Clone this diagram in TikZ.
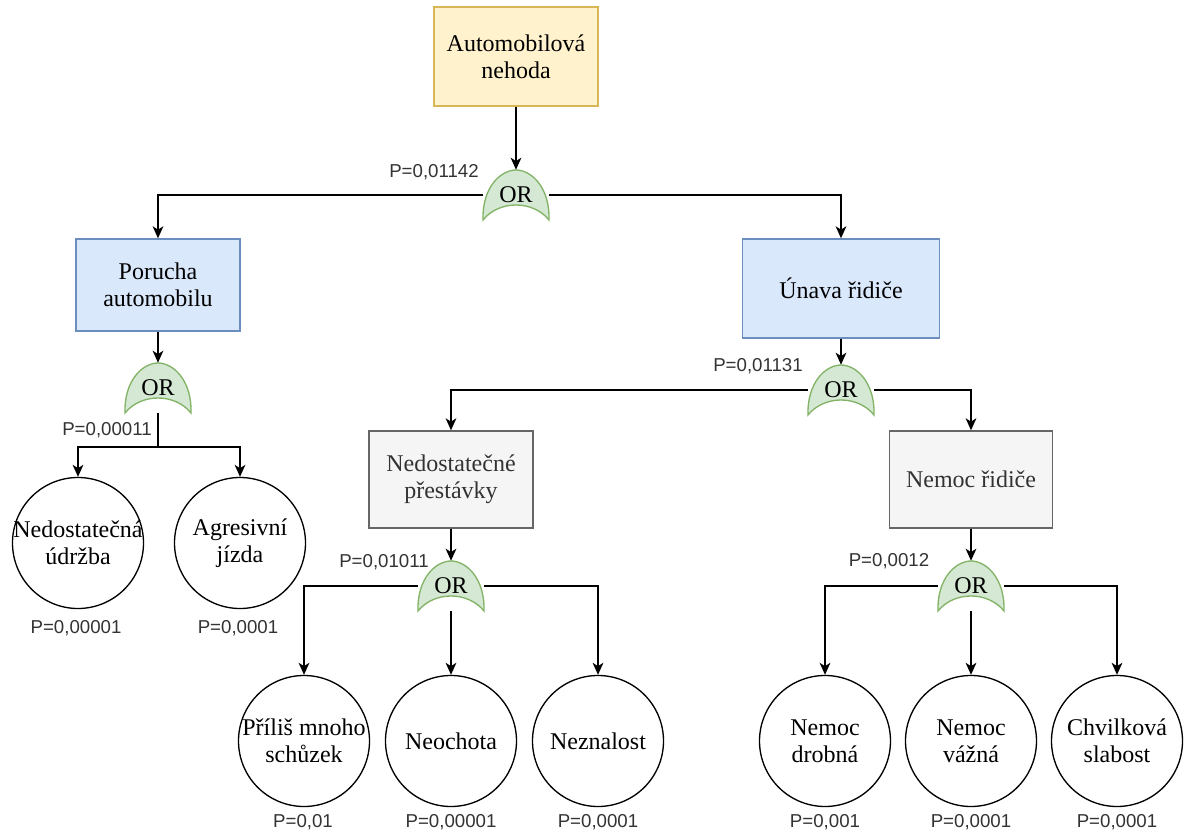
\documentclass[tikz,border=0pt]{standalone}
\usepackage{fontspec}
\setmainfont{Liberation Serif}
\newfontfamily\labelfont{Liberation Sans}
\usetikzlibrary{arrows.meta}

\definecolor{topfill}{HTML}{FFF2CC}
\definecolor{topline}{HTML}{D6B656}
\definecolor{bluefill}{HTML}{DAE8FC}
\definecolor{blueline}{HTML}{6C8EBF}
\definecolor{grayfill}{HTML}{F5F5F5}
\definecolor{grayline}{HTML}{666666}
\definecolor{graytext}{HTML}{333333}
\definecolor{gatefill}{HTML}{D5E8D4}
\definecolor{gateline}{HTML}{82B366}

\tikzset{
  boxtext/.style={font=\fontsize{18}{20}\selectfont, align=center},
  topbox/.style={boxtext, draw=topline, fill=topfill, line width=1pt, inner sep=0pt},
  bluebox/.style={boxtext, draw=blueline, fill=bluefill, line width=1pt, inner sep=0pt},
  graybox/.style={boxtext, draw=grayline, fill=grayfill, text=graytext, line width=1pt, inner sep=0pt},
  event/.style={circle, draw=black, line width=1pt, minimum size=98.25pt, inner sep=0pt},
  evtext/.style={boxtext},
  gatenode/.style={rectangle, inner sep=0pt, minimum width=49.5pt, minimum height=37.5pt,
                   font=\fontsize{18}{20}\selectfont},
  gateshape/.style={draw=gateline, fill=gatefill, line width=1pt},
  plabel/.style={font=\labelfont\fontsize{14}{16}\selectfont, text=black!80, inner sep=0pt},
  conn/.style={draw=black, line width=1.1pt},
  arr/.style={conn, -{Stealth[length=9pt,width=8pt,inset=2.5pt]}},
}

% OR gate: bullet-shaped outline with a concave base, plus a named node holding the text
\newcommand\orgate[3]{%
  \begin{scope}[shift={(#2,#3)}]
    \path[gateshape] (-33,25) .. controls (-34,-8) and (-15,-25) .. (0,-25)
      .. controls (15,-25) and (34,-8) .. (33,25)
      .. controls (17,5) and (-17,5) .. (-33,25) -- cycle;
  \end{scope}
  \node[gatenode] (#1) at (#2,#3) {OR};%
}

\begin{document}
\begin{tikzpicture}[x=0.75pt,y=-0.75pt]
\useasboundingbox (0,0) rectangle (1185,834);

% top event and first-level causes
\node[topbox, minimum width=123pt, minimum height=74.25pt] (top) at (516,56.5) {Automobilová\\nehoda};
\node[bluebox, minimum width=123pt, minimum height=69pt] (car) at (158,285) {Porucha\\automobilu};
\node[bluebox, minimum width=147.75pt, minimum height=74.25pt] (tired) at (841,288.5) {Únava řidiče};

% second-level causes
\node[graybox, minimum width=123pt, minimum height=72.75pt] (breaks) at (451,479.5) {Nedostatečné\\přestávky};
\node[graybox, minimum width=122.25pt, minimum height=72.75pt] (ill) at (971,479.5) {Nemoc řidiče};

% gates
\orgate{g1}{516}{195}
\orgate{g2}{158}{388}
\orgate{g3}{841}{390}
\orgate{g4}{451}{586}
\orgate{g5}{971}{586}

% basic events
\node[event, label={[evtext]center:Nedostatečná\\údržba}] (e1) at (78,543) {};
\node[event, label={[evtext]center:Agresivní\\jízda}] (e2) at (240,543) {};
\node[event, label={[evtext]center:Příliš mnoho\\schůzek}] (e3) at (304,741) {};
\node[event, label={[evtext]center:Neochota}] (e4) at (451,741) {};
\node[event, label={[evtext]center:Neznalost}] (e5) at (598,741) {};
\node[event, label={[evtext]center:Nemoc\\drobná}] (e6) at (825,741) {};
\node[event, label={[evtext]center:Nemoc\\vážná}] (e7) at (971,741) {};
\node[event, label={[evtext]center:Chvilková\\slabost}] (e8) at (1117,741) {};

% connectors
\draw[arr] (top.south) -- (g1.north);
\draw[arr] (g1.west) -| (car.north);
\draw[arr] (g1.east) -| (tired.north);

\coordinate (j2) at (158,447);
\draw[arr] (car.south) -- (g2.north);
\draw[conn] (g2.south) -- (j2);
\draw[arr] (j2) -| (e1.north);
\draw[arr] (j2) -| (e2.north);

\draw[arr] (tired.south) -- (g3.north);
\draw[arr] (g3.west) -| (breaks.north);
\draw[arr] (g3.east) -| (ill.north);

\draw[arr] (breaks.south) -- (g4.north);
\draw[arr] (g4.west) -| (e3.north);
\draw[arr] (g4.south) -- (e4.north);
\draw[arr] (g4.east) -| (e5.north);

\draw[arr] (ill.south) -- (g5.north);
\draw[arr] (g5.west) -| (e6.north);
\draw[arr] (g5.south) -- (e7.north);
\draw[arr] (g5.east) -| (e8.north);

% probabilities
\node[plabel] (p1) at (434,172) {P=0,01142};
\node[plabel] (p2) at (107,430) {P=0,00011};
\node[plabel] (p3) at (758,366) {P=0,01131};
\node[plabel] (p4) at (384,562) {P=0,01011};
\node[plabel] (p5) at (889,561) {P=0,0012};

\node[plabel] (q1) at (76,628) {P=0,00001};
\node[plabel] (q2) at (238,628) {P=0,0001};
\node[plabel] (q3) at (303,822) {P=0,01};
\node[plabel] (q4) at (451,822) {P=0,00001};
\node[plabel] (q5) at (598,822) {P=0,0001};
\node[plabel] (q6) at (825,822) {P=0,001};
\node[plabel] (q7) at (971,822) {P=0,0001};
\node[plabel] (q8) at (1117,822) {P=0,0001};
\end{tikzpicture}
\end{document}
